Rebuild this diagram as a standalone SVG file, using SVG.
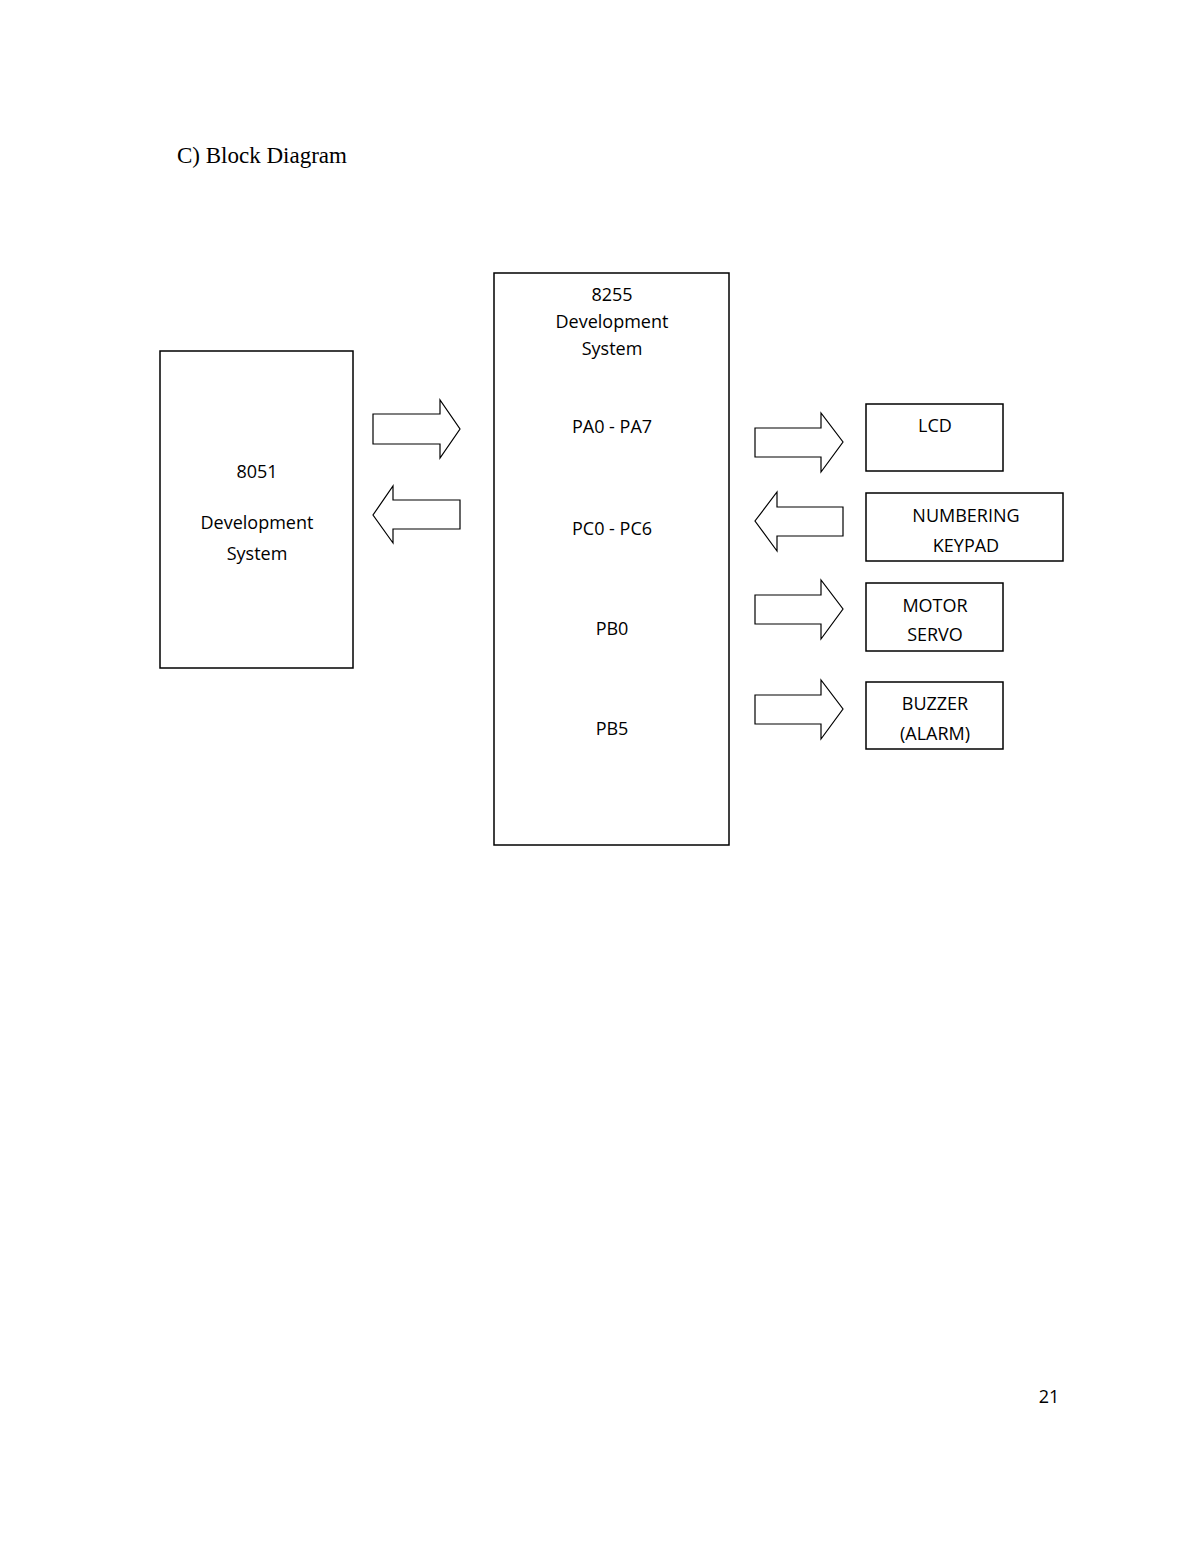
<svg xmlns="http://www.w3.org/2000/svg" width="1200" height="1553" viewBox="0 0 1200 1553">
<style>
.b{fill:#fff;stroke:#000;stroke-width:1.5}
.a{fill:#fff;stroke:#000;stroke-width:1.2}
text{font-family:"Open Sans","Liberation Sans",sans-serif;font-size:18px;text-anchor:middle;fill:#000}
.t{font-family:"Liberation Serif",serif;font-size:23px;text-anchor:start}
</style>
<rect width="1200" height="1553" fill="#fff"/>
<text class="t" x="177" y="163">C)  Block Diagram</text>
<g id="n8051"><rect class="b" x="160" y="351" width="193" height="317"/>
<text x="257" y="478">8051</text><text x="257" y="529">Development</text><text x="257" y="560">System</text></g>
<g id="n8255"><rect class="b" x="494" y="273" width="235" height="572"/>
<text x="612" y="301">8255</text><text x="612" y="328">Development</text><text x="612" y="355">System</text>
<text x="612" y="433">PA0 - PA7</text><text x="612" y="535">PC0 - PC6</text><text x="612" y="635">PB0</text><text x="612" y="735">PB5</text></g>
<g id="lcd"><rect class="b" x="866" y="404" width="137" height="67"/><text x="935" y="432">LCD</text></g>
<g id="keypad"><rect class="b" x="866" y="493" width="197" height="68"/><text x="966" y="522">NUMBERING</text><text x="966" y="552">KEYPAD</text></g>
<g id="motor"><rect class="b" x="866" y="583" width="137" height="68"/><text x="935" y="612">MOTOR</text><text x="935" y="641">SERVO</text></g>
<g id="buzzer"><rect class="b" x="866" y="682" width="137" height="67"/><text x="935" y="710">BUZZER</text><text x="935" y="740">(ALARM)</text></g>
<g id="connectors">
<polygon class="a" points="373,414 440,414 440,400 460,429 440,458 440,444 373,444"/>
<polygon class="a" points="460,500 393,500 393,486 373,515 393,543 393,529 460,529"/>
<polygon class="a" points="755,428 821,428 821,413 843,442 821,472 821,457 755,457"/>
<polygon class="a" points="843,507 777,507 777,492 755,521 777,551 777,536 843,536"/>
<polygon class="a" points="755,595 821,595 821,580 843,609 821,639 821,624 755,624"/>
<polygon class="a" points="755,695 821,695 821,680 843,709 821,739 821,724 755,724"/>
</g>
<text x="1049" y="1403">21</text>
</svg>
